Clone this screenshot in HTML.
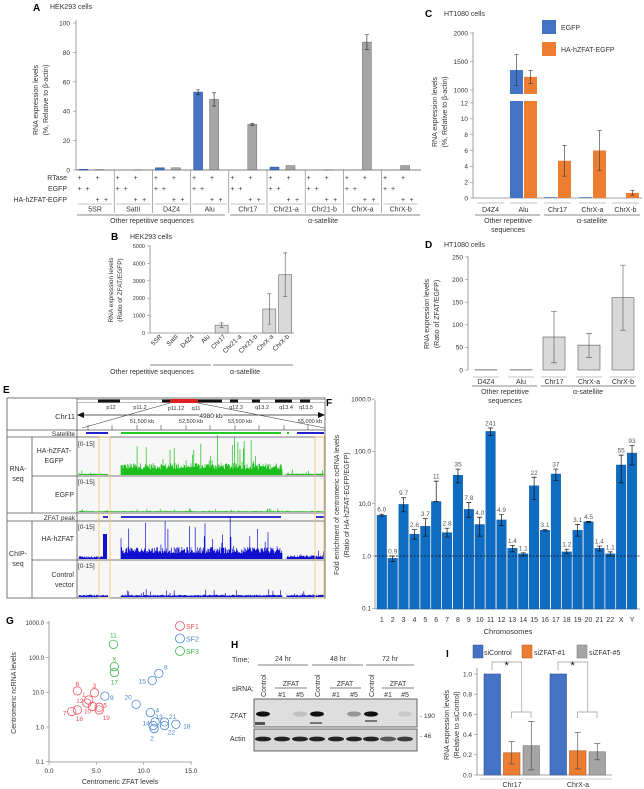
<!DOCTYPE html>
<html><head><meta charset="utf-8"><style>
html,body{margin:0;padding:0;background:#fff;}
svg{display:block;font-family:"Liberation Sans",sans-serif;}
text{fill:#333;}
</style></head><body>
<svg id="fig" width="644" height="789" viewBox="0 0 644 789" xmlns="http://www.w3.org/2000/svg">
<g id="pA">
<text x="33" y="11" font-size="10" font-weight="bold" style="fill:#000">A</text>
<text x="50" y="9" font-size="7">HEK293 cells</text>
<text transform="translate(38,100) rotate(-90)" font-size="7" text-anchor="middle">RNA expression levels</text>
<text transform="translate(48,100) rotate(-90)" font-size="7" text-anchor="middle">(%, Relative to β-actin)</text>
<text x="67" y="180" font-size="7" text-anchor="end">RTase</text>
<text x="67" y="191" font-size="7" text-anchor="end">EGFP</text>
<text x="67" y="202" font-size="7" text-anchor="end">HA-hZFAT-EGFP</text>
<line x1="77" y1="215" x2="225" y2="215" stroke="#888"/>
<line x1="230" y1="215" x2="420" y2="215" stroke="#888"/>
<text x="152" y="223" font-size="7" text-anchor="middle">Other repetitive sequences</text>
<text x="323" y="223" font-size="7" text-anchor="middle">α-satellite</text>
</g>
<g id="pB">
<text x="111" y="240" font-size="10" font-weight="bold" style="fill:#000">B</text>
<text x="130" y="239" font-size="7">HEK293 cells</text>
<text transform="translate(113,290) rotate(-90)" font-size="6.5" text-anchor="middle">RNA expression levels</text>
<text transform="translate(122,290) rotate(-90)" font-size="6.5" text-anchor="middle">(Ratio of ZFAT/EGFP)</text>
<line x1="150" y1="365" x2="211" y2="365" stroke="#888"/>
<line x1="213" y1="365" x2="293" y2="365" stroke="#888"/>
<text x="152" y="374" font-size="7" text-anchor="middle">Other repetitive sequences</text>
<text x="245" y="374" font-size="7" text-anchor="middle">α-satellite</text>
</g>
<g id="pC">
<text x="425" y="17" font-size="10" font-weight="bold" style="fill:#000">C</text>
<text x="444" y="16" font-size="7">HT1080 cells</text>
<text transform="translate(437,112) rotate(-90)" font-size="7" text-anchor="middle">RNA expression levels</text>
<text transform="translate(447,112) rotate(-90)" font-size="7" text-anchor="middle">(%, Relative to β-actin)</text>
<rect x="542" y="20" width="14" height="14" fill="#4472c4"/>
<text x="561" y="30" font-size="7">EGFP</text>
<rect x="542" y="42" width="14" height="14" fill="#ed7d31"/>
<text x="561" y="52" font-size="7">HA-hZFAT-EGFP</text>
<line x1="475" y1="215" x2="540" y2="215" stroke="#888"/>
<line x1="544" y1="215" x2="640" y2="215" stroke="#888"/>
<text x="508" y="223" font-size="7" text-anchor="middle">Other repetitive</text>
<text x="508" y="232" font-size="7" text-anchor="middle">sequences</text>
<text x="592" y="223" font-size="7" text-anchor="middle">α-satellite</text>
</g>
<g id="pD">
<text x="425" y="248" font-size="10" font-weight="bold" style="fill:#000">D</text>
<text x="444" y="247" font-size="7">HT1080 cells</text>
<text transform="translate(429,314) rotate(-90)" font-size="7" text-anchor="middle">RNA expression levels</text>
<text transform="translate(439,314) rotate(-90)" font-size="7" text-anchor="middle">(Ratio of ZFAT/EGFP)</text>
<line x1="472" y1="386" x2="537" y2="386" stroke="#888"/>
<line x1="541" y1="386" x2="636" y2="386" stroke="#888"/>
<text x="505" y="394" font-size="7" text-anchor="middle">Other repetitive</text>
<text x="505" y="403" font-size="7" text-anchor="middle">sequences</text>
<text x="588" y="394" font-size="7" text-anchor="middle">α-satellite</text>
</g>
<g id="pE">
<text x="3" y="393" font-size="10" font-weight="bold" style="fill:#000">E</text>
<rect x="77" y="437" width="248" height="161" fill="#f7f7f7"/>
<g stroke="#555" stroke-width="0.8" fill="none">
<rect x="7" y="398" width="318" height="200"/>
<line x1="7" y1="430" x2="325" y2="430"/><line x1="7" y1="437" x2="325" y2="437"/>
<line x1="32" y1="476" x2="325" y2="476"/><line x1="7" y1="513" x2="325" y2="513"/>
<line x1="7" y1="521" x2="325" y2="521"/><line x1="32" y1="560" x2="325" y2="560"/>
<line x1="77" y1="398" x2="77" y2="598"/><line x1="32" y1="437" x2="32" y2="513"/><line x1="32" y1="521" x2="32" y2="598"/>
</g>
<text x="75" y="419" font-size="7.5" text-anchor="end">Chr11</text>
<text x="75" y="436" font-size="6.5" text-anchor="end">Satellite</text>
<text x="54" y="453" font-size="7" text-anchor="middle">HA-hZFAT-</text>
<text x="54" y="463" font-size="7" text-anchor="middle">EGFP</text>
<text x="18" y="471" font-size="7" text-anchor="middle">RNA-</text>
<text x="18" y="481" font-size="7" text-anchor="middle">seq</text>
<text x="74" y="497" font-size="7" text-anchor="end">EGFP</text>
<text x="75" y="520" font-size="6.5" text-anchor="end">ZFAT peak</text>
<text x="74" y="541" font-size="7" text-anchor="end">HA-hZFAT</text>
<text x="18" y="556" font-size="7" text-anchor="middle">ChIP-</text>
<text x="18" y="566" font-size="7" text-anchor="middle">seq</text>
<text x="74" y="577" font-size="7" text-anchor="end">Control</text>
<text x="74" y="587" font-size="7" text-anchor="end">vector</text>
<g font-size="6.5">
<text x="78" y="446">[0-15]</text><text x="78" y="484">[0-15]</text><text x="78" y="529">[0-15]</text><text x="78" y="568">[0-15]</text>
</g>
<rect x="77" y="399.5" width="248" height="3" fill="#fff" stroke="#777" stroke-width="0.5"/>
<g fill="#111"><rect x="98" y="399.5" width="22" height="3"/><rect x="162" y="399.5" width="8" height="3"/><rect x="198" y="399.5" width="24" height="3"/><rect x="230" y="399.5" width="8" height="3"/><rect x="252" y="399.5" width="8" height="3"/><rect x="275" y="399.5" width="17" height="3"/><rect x="300" y="399.5" width="10" height="3"/></g>
<rect x="170" y="399" width="28" height="4" fill="#d22"/>
<g font-size="5.5" text-anchor="middle"><text x="111" y="409">p12</text><text x="140" y="409">p11.2</text><text x="176" y="410">p11.12</text><text x="196" y="410">q11</text><text x="236" y="409">q12.3</text><text x="262" y="409">q13.2</text><text x="286" y="409">q13.4</text><text x="306" y="409">q13.5</text></g>
<line x1="80" y1="415" x2="322" y2="415" stroke="#222" stroke-width="0.8"/>
<path d="M77 415 L84 412 L84 418Z M325 415 L318 412 L318 418Z" fill="#111"/>
<text x="211" y="418" font-size="6.5" text-anchor="middle" style="fill:#222;paint-order:stroke;stroke:#fff;stroke-width:2px">4980 kb</text>
<line x1="170" y1="403" x2="82" y2="428" stroke="#444" stroke-width="0.6"/><line x1="198" y1="403" x2="325" y2="428" stroke="#444" stroke-width="0.6"/>
<g font-size="5.5" text-anchor="middle"><text x="142" y="423">51,500 kb</text><text x="191" y="423">52,500 kb</text><text x="240" y="423">53,500 kb</text><text x="310" y="423">55,000 kb</text></g>
<g stroke="#444" stroke-width="0.6"><line x1="88" y1="425" x2="88" y2="430"/><line x1="112" y1="425" x2="112" y2="430"/><line x1="137" y1="425" x2="137" y2="430"/><line x1="161" y1="425" x2="161" y2="430"/><line x1="186" y1="425" x2="186" y2="430"/><line x1="210" y1="425" x2="210" y2="430"/><line x1="235" y1="425" x2="235" y2="430"/><line x1="259" y1="425" x2="259" y2="430"/><line x1="284" y1="425" x2="284" y2="430"/><line x1="308" y1="425" x2="308" y2="430"/></g>
<g id="tracks"></g>
<rect x="99" y="437" width="11" height="161" fill="none" stroke="#f5c26b" stroke-width="0.8"/>
<rect x="315" y="437" width="9" height="161" fill="none" stroke="#f5c26b" stroke-width="0.8"/>
</g>
<g id="pF">
<text x="326" y="406" font-size="10" font-weight="bold" style="fill:#000">F</text>
<text transform="translate(339,505) rotate(-90)" font-size="7" text-anchor="middle">Fold enrichment of centromeric ncRNA levels</text>
<text transform="translate(349,505) rotate(-90)" font-size="7" text-anchor="middle">(Ratio of HA-hZFAT-EGFP/EGFP)</text>
<text x="508" y="634" font-size="7.5" text-anchor="middle">Chromosomes</text>
</g>
<g id="pG">
<text x="6" y="624" font-size="10" font-weight="bold" style="fill:#000">G</text>
<text transform="translate(16,693) rotate(-90)" font-size="7" text-anchor="middle">Centromeric ncRNA levels</text>
<text x="120" y="784" font-size="7" text-anchor="middle">Centromeric ZFAT levels</text>
</g>
<g id="pH">
<text x="231" y="648" font-size="10" font-weight="bold" style="fill:#000">H</text>
<text x="232" y="662" font-size="7">Time;</text>
<text x="232" y="691" font-size="7">siRNA;</text>
<text x="230" y="718" font-size="7">ZFAT</text>
<text x="230" y="741" font-size="7">Actin</text>
<g stroke="#555" stroke-width="0.7"><line x1="258" y1="665" x2="308" y2="665"/><line x1="312" y1="665" x2="363" y2="665"/><line x1="366" y1="665" x2="414" y2="665"/>
<line x1="275" y1="688" x2="307" y2="688"/><line x1="330" y1="688" x2="361" y2="688"/><line x1="382" y1="688" x2="414" y2="688"/></g>
<g font-size="7" text-anchor="middle"><text x="283" y="661">24 hr</text><text x="338" y="661">48 hr</text><text x="390" y="661">72 hr</text>
<text x="291" y="686">ZFAT</text><text x="345" y="686">ZFAT</text><text x="398" y="686">ZFAT</text>
<text x="282" y="697">#1</text><text x="300" y="697">#5</text><text x="336" y="697">#1</text><text x="354" y="697">#5</text><text x="388" y="697">#1</text><text x="405" y="697">#5</text>
<text transform="translate(266,697) rotate(-90)" text-anchor="start">Control</text><text transform="translate(320,697) rotate(-90)" text-anchor="start">Control</text><text transform="translate(374,697) rotate(-90)" text-anchor="start">Control</text></g>
<rect x="254" y="699" width="163" height="28" fill="#dedede" stroke="#444" stroke-width="0.8"/>
<rect x="254" y="729" width="163" height="22" fill="#d6d6d6" stroke="#444" stroke-width="0.8"/>
<g id="bands"></g>
<text x="420" y="718" font-size="6.5">- 190</text>
<text x="420" y="738" font-size="6.5">- 46</text>
</g>
<g id="pI">
<text x="446" y="657" font-size="10" font-weight="bold" style="fill:#000">I</text>
<text transform="translate(449,725) rotate(-90)" font-size="7" text-anchor="middle">RNA expression levels</text>
<text transform="translate(459,725) rotate(-90)" font-size="7" text-anchor="middle">(Relative to siControl)</text>
<rect x="473" y="645" width="10" height="13" fill="#4472c4" stroke="#2f528f" stroke-width="0.5"/>
<text x="484" y="655" font-size="7">siControl</text>
<rect x="522" y="645" width="10" height="13" fill="#ed7d31" stroke="#ae5a21" stroke-width="0.5"/>
<text x="534" y="655" font-size="7">siZFAT-#1</text>
<rect x="577" y="645" width="10" height="13" fill="#a5a5a5" stroke="#777" stroke-width="0.5"/>
<text x="589" y="655" font-size="7">siZFAT-#5</text>
</g>
</svg>
<script>
// ---------- Panel A data ----------
const aCategories = ["5SR","SatII","D4Z4","Alu","Chr17","Chr21-a","Chr21-b","ChrX-a","ChrX-b"];
const aEgfp = [0.5,0,1.5,53,0,2,0,0,0];
const aEgfpErr = [0.1,0,0.2,1.5,0,0.2,0,0,0];
const aZfat = [0.3,0.2,1.5,48,31,3,0.2,87,3];
const aZfatErr = [0.1,0,0.3,4.5,0.7,0.3,0,5,0.2];
const aTicks = [0,20,40,60,80,100];
// ---------- Panel B data ----------
const bCategories = ["5SR","SatII","D4Z4","Alu","Chr17","Chr21-a","Chr21-b","ChrX-a","ChrX-b"];
const bValues = [0,0,0,0,450,0,0,1380,3350];
const bErr = [0,0,0,0,130,0,0,870,1250];
const bTicks = [0,1000,2000,3000,4000,5000];
// ---------- Panel C data ----------
const cCategories = ["D4Z4","Alu","Chr17","ChrX-a","ChrX-b"];
const cEgfp = [0,1350,0.1,0.1,0];
const cEgfpErr = [0,275,0,0,0];
const cZfat = [0,1230,4.7,6.0,0.65];
const cZfatErr = [0,115,1.95,2.5,0.3];
const cTicksLow = [0,2,4,6,8,10,12];
const cTicksHigh = [1000,1500,2000];
// ---------- Panel D data ----------
const dCategories = ["D4Z4","Alu","Chr17","ChrX-a","ChrX-b"];
const dValues = [0.5,0.5,73,55,160];
const dErrLow = [0,0,57,27,72];
const dErrHigh = [0,0,57,26,72];
const dTicks = [0,50,100,150,200,250];
// ---------- Panel F data ----------
const fCategories = ["1","2","3","4","5","6","7","8","9","10","11","12","13","14","15","16","17","18","19","20","21","22","X","Y"];
const fValues = [6.0,0.9,9.7,2.6,3.7,11,2.8,35,7.8,4.0,241,4.9,1.4,1.1,22,3.1,37,1.2,3.1,4.5,1.4,1.1,55,93];
const fErrHigh = [6.3,1.0,13,3.2,5.2,27,3.4,46,10.5,5.5,280,6.2,1.6,1.15,32,3.2,46,1.35,4.0,4.6,1.55,1.2,85,130];
const fErrLow = [5.8,0.78,7,2.1,2.4,11,2.3,25,5.5,2.4,200,3.8,1.2,1.0,12,3.0,28,1.1,2.4,4.4,1.25,1.0,25,55];
const fLabels = ["6.0","0.9","9.7","2.6","3.7","11","2.8","35","7.8","4.0","241","4.9","1.4","1.1","22","3.1","37","1.2","3.1","4.5","1.4","1.1","55","93"];
const fTicks = [0.1,1,10,100,1000];
const fTickLabels = ["0.1","1.0","10.0","100.0","1000.0"];
// ---------- Panel G data ----------
const gLabels = ["6","3","1","12","7","16","10","5","19","9","15","8","20","4","13","21","14","2","22","18","11","X","17"];
const gX = [3.0,4.8,4.2,4.0,2.4,3.0,4.6,5.3,5.3,5.9,10.9,11.6,9.2,10.7,11.2,12.2,11.0,11.1,12.2,13.4,6.8,6.9,6.9];
const gY = [11,9.7,6.0,4.9,2.8,3.1,3.9,3.7,3.1,7.8,22,35,4.5,2.6,1.4,1.4,1.1,0.9,1.1,1.2,241,55,37];
const gGroup = [0,0,0,0,0,0,0,0,0,1,1,1,1,1,1,1,1,1,1,1,2,2,2];
const gXTicks = [0,5,10,15];
const gYTicks = [0.1,1,10,100,1000];
const gYTickLabels = ["0.1","1.0","10.0","100.0","1000.0"];
// ---------- Panel H data (band intensities) ----------
const hZfat = [1,0,0.15,1,0,0.35,1,0,0.1];
const hActin = [1,1,1,1,1,1,1,0.7,0.85];
// ---------- Panel I data ----------
const iCategories = ["Chr17","ChrX-a"];
const iControl = [1.0,1.0];
const iZfat1 = [0.22,0.24];
const iZfat1Err = [0.11,0.18];
const iZfat5 = [0.29,0.23];
const iZfat5Err = [0.24,0.08];
const iTicks = [0,0.2,0.4,0.6,0.8,1.0];

const NS = "http://www.w3.org/2000/svg";
function mk(tag, attrs, parent){const e=document.createElementNS(NS,tag);for(const k in attrs)e.setAttribute(k,attrs[k]);parent.appendChild(e);return e;}
function txt(s, attrs, parent){const e=mk("text",attrs,parent);e.textContent=s;return e;}
let el;

// ===== Panel A =====
(function(){
const g=document.getElementById("pA");
const y=v=>170-v*1.47, x0=76, gw=38.2;
el=mk("line",{x1:76,y1:20,x2:76,y2:170,stroke:"#888","stroke-width":0.8},g);


el=mk("line",{x1:76,y1:170,x2:421,y2:170,stroke:"#555","stroke-width":0.8},g);


aTicks.forEach(t=>{
  mk("line",{x1:73,y1:y(t),x2:76,y2:y(t),stroke:"#888","stroke-width":0.6},g);
  el=txt(String(t),{x:70,y:y(t)+2.5,"font-size":6.5,"text-anchor":"end"},g);
  
  
});
aCategories.forEach((c,i)=>{
  const gs=x0+i*gw;
  const bh=[[aEgfp[i],aEgfpErr[i],"#4472c4","#2f528f",gs+3],[aZfat[i],aZfatErr[i],"#a5a5a5","#666",gs+19]];
  bh.forEach((b,j)=>{
    el=mk("rect",{x:b[4],y:y(b[0]),width:9,height:Math.max(0,170-y(b[0])),fill:b[2],stroke:b[3],"stroke-width":0.5},g);
    
    
    if(b[1]>0.5){const cx=b[4]+4.5;
      mk("path",{d:`M${cx} ${y(b[0]+b[1])}V${y(b[0]-b[1])}M${cx-2} ${y(b[0]+b[1])}H${cx+2}M${cx-2} ${y(b[0]-b[1])}H${cx+2}`,stroke:"#222","stroke-width":0.6,fill:"none"},g);}
  });
  if(i>0) mk("line",{x1:gs,y1:170,x2:gs,y2:213,stroke:"#777","stroke-width":0.6},g);
  const cols=[3.5,11.5,21.5,30];
  const plus=[[0,2],[0,1],[2,3]], rows=[180,191,202];
  plus.forEach((p,r)=>p.forEach(ci=>{txt("+",{x:gs+cols[ci],y:rows[r],"font-size":7,"text-anchor":"middle"},g);}));
  mk("line",{x1:gs+2,y1:204,x2:gs+gw-2,y2:204,stroke:"#888","stroke-width":0.6},g);
  el=txt(c,{x:gs+gw/2,y:211.5,"font-size":7,"text-anchor":"middle"},g);
  
  
});
})();

// ===== Panel B =====
(function(){
const g=document.getElementById("pB");
const y=v=>333-v*0.0174, x0=150, sw=15.9;
el=mk("line",{x1:150,y1:245,x2:150,y2:333,stroke:"#888","stroke-width":0.8},g);


el=mk("line",{x1:150,y1:333,x2:294,y2:333,stroke:"#888","stroke-width":0.8},g);


bTicks.forEach(t=>{
  mk("line",{x1:147,y1:y(t),x2:150,y2:y(t),stroke:"#888","stroke-width":0.6},g);
  el=txt(String(t),{x:145,y:y(t)+2,"font-size":5.5,"text-anchor":"end"},g);
  
  
});
bCategories.forEach((c,i)=>{
  const bx=x0+i*sw+1.5;
  el=mk("rect",{x:bx,y:y(bValues[i]),width:13,height:333-y(bValues[i]),fill:"#d9d9d9",stroke:"#666","stroke-width":0.6},g);
  
  
  if(bErr[i]>0){const cx=bx+6.5;
    mk("path",{d:`M${cx} ${y(bValues[i]+bErr[i])}V${y(bValues[i]-bErr[i])}M${cx-2} ${y(bValues[i]+bErr[i])}H${cx+2}M${cx-2} ${y(bValues[i]-bErr[i])}H${cx+2}`,stroke:"#555","stroke-width":0.6,fill:"none"},g);}
  el=txt(c,{transform:`translate(${bx+11},${337}) rotate(-45)`,"font-size":6.5,"text-anchor":"end"},g);
  
  
});
})();

// ===== Panel C =====
(function(){
const g=document.getElementById("pC");
const yl=v=>198-v*7.92, yh=v=>90-(v-1000)*0.057;
const y=v=>v<=12?yl(v):yh(v);
const gx=[477,510,544,579,612];
el=mk("line",{x1:473,y1:32,x2:473,y2:198,stroke:"#888","stroke-width":0.8},g);


el=mk("line",{x1:473,y1:198,x2:642,y2:198,stroke:"#888","stroke-width":0.8},g);


cTicksLow.forEach(t=>{mk("line",{x1:470,y1:yl(t),x2:473,y2:yl(t),stroke:"#888","stroke-width":0.6},g);
  el=txt(String(t),{x:468,y:yl(t)+2.3,"font-size":6.5,"text-anchor":"end"},g);
  
  });
cTicksHigh.forEach(t=>{mk("line",{x1:470,y1:yh(t),x2:473,y2:yh(t),stroke:"#888","stroke-width":0.6},g);
  el=txt(String(t),{x:468,y:yh(t)+2.3,"font-size":6.5,"text-anchor":"end"},g);
  
  });
cCategories.forEach((c,i)=>{
  [[cEgfp[i],cEgfpErr[i],"#4472c4",gx[i]],[cZfat[i],cZfatErr[i],"#ed7d31",gx[i]+14]].forEach((b,j)=>{
    el=mk("rect",{x:b[3],y:y(b[0]),width:13,height:198-y(b[0]),fill:b[2]},g);
    
    
    if(b[1]>0){const cx=b[3]+6.5;
      mk("path",{d:`M${cx} ${y(b[0]+b[1])}V${y(b[0]-b[1])}M${cx-2} ${y(b[0]+b[1])}H${cx+2}M${cx-2} ${y(b[0]-b[1])}H${cx+2}`,stroke:"#333","stroke-width":0.6,fill:"none"},g);}
  });
  mk("line",{x1:gx[i],y1:203,x2:gx[i]+27,y2:203,stroke:"#888","stroke-width":0.6},g);
  el=txt(c,{x:gx[i]+13.5,y:212,"font-size":7,"text-anchor":"middle"},g);
  
  
});
mk("rect",{x:465,y:94,width:177,height:7,fill:"#fff"},g);
mk("line",{x1:473,y1:94,x2:473,y2:101,stroke:"#888","stroke-width":0.8},g);
})();

// ===== Panel D =====
(function(){
const g=document.getElementById("pD");
const y=v=>370-v*0.452;
const gx=[475,510,543,578,612];
el=mk("line",{x1:468,y1:256,x2:468,y2:370,stroke:"#888","stroke-width":0.8},g);


dTicks.forEach(t=>{mk("line",{x1:465,y1:y(t),x2:468,y2:y(t),stroke:"#888","stroke-width":0.6},g);
  el=txt(String(t),{x:463,y:y(t)+2.3,"font-size":6.5,"text-anchor":"end"},g);
  
  });
dCategories.forEach((c,i)=>{
  el=mk("rect",{x:gx[i],y:y(dValues[i]),width:22,height:370-y(dValues[i]),fill:"#d9d9d9",stroke:"#555","stroke-width":0.6},g);
  
  
  if(dErrHigh[i]>0){const cx=gx[i]+11;
    mk("path",{d:`M${cx} ${y(dValues[i]+dErrHigh[i])}V${y(dValues[i]-dErrLow[i])}M${cx-3} ${y(dValues[i]+dErrHigh[i])}H${cx+3}M${cx-3} ${y(dValues[i]-dErrLow[i])}H${cx+3}`,stroke:"#555","stroke-width":0.6,fill:"none"},g);}
  mk("line",{x1:gx[i]-2,y1:377,x2:gx[i]+24,y2:377,stroke:"#888","stroke-width":0.6},g);
  el=txt(c,{x:gx[i]+11,y:384,"font-size":7,"text-anchor":"middle"},g);
  
  
});
})();

// ===== Panel E tracks (signal texture) =====
(function(){
const g=document.getElementById("tracks");
let s=12345; const rnd=()=>{s=(s*1103515245+12345)%2147483648;return s/2147483648;};
function track(base,x1,x2,h,color,spk,name){
  let d="";
  for(let x=x1;x<x2;x+=0.7){const v=h*(0.35+0.4*rnd())+(rnd()<spk?h*2*rnd():0);d+=`M${x.toFixed(1)} ${base}v${(-v).toFixed(1)}`;}
  el=mk("path",{d:d,stroke:color,"stroke-width":0.7,fill:"none"},g);
  
  
}
mk("rect",{x:86,y:432,width:22,height:2,fill:"#22c"},g);
mk("rect",{x:121,y:432,width:160,height:2,fill:"#2c2"},g);
mk("rect",{x:297,y:432,width:27,height:2,fill:"#22c"},g);
mk("rect",{x:287,y:432,width:2,height:2,fill:"#2c2"},g);
track(475,121,282,16,"#1bbf1b",0.12,'rna-zfat-signal');
track(475,79,108,2,"#1bbf1b",0.1,'rna-zfat-signal-left');
track(475,286,324,2,"#1bbf1b",0.1,'rna-zfat-signal-right');
track(512,79,324,1.5,"#2ec02e",0.06,'rna-egfp-signal');
mk("rect",{x:121,y:516,width:160,height:2,fill:"#33c"},g);
mk("rect",{x:103,y:516,width:5,height:2,fill:"#33c"},g);
mk("rect",{x:316,y:516,width:8,height:2,fill:"#33c"},g);
track(559,121,282,16,"#1010d0",0.12,'chip-zfat-signal');
track(559,79,106,4,"#1010d0",0.05,'chip-zfat-signal-left');
mk("path",{d:"M103 559V534H107V559Z",fill:"#1010d0"},g);
track(559,287,324,5,"#1010d0",0.08,'chip-zfat-signal-right');
track(597,79,108,3,"#1010d0",0.05,'control-signal-left');
track(597,121,282,3,"#1010d0",0.08,'control-signal');
track(597,287,324,3,"#1010d0",0.05,'control-signal-right');
})();

// ===== Panel F =====
(function(){
const g=document.getElementById("pF");
const y=v=>556-Math.log10(v)*52.3, x0=377, sw=10.88;
el=mk("line",{x1:375,y1:400,x2:375,y2:609,stroke:"#888","stroke-width":0.8},g);


el=mk("line",{x1:375,y1:609,x2:640,y2:609,stroke:"#888","stroke-width":0.8},g);


fTicks.forEach((t,k)=>{mk("line",{x1:372,y1:y(t),x2:375,y2:y(t),stroke:"#888","stroke-width":0.6},g);
  el=txt(fTickLabels[k],{x:371,y:y(t)+2.3,"font-size":6.5,"text-anchor":"end"},g);
  
  });
fCategories.forEach((c,i)=>{
  const bx=x0+i*sw;
  el=mk("rect",{x:bx,y:y(fValues[i]),width:9.6,height:609-y(fValues[i]),fill:"#0e6cc2",stroke:"#0b5aa5","stroke-width":0.4},g);
  
  
  const cx=bx+4.8;
  mk("path",{d:`M${cx} ${y(fErrHigh[i])}V${y(fErrLow[i])}M${cx-2.5} ${y(fErrHigh[i])}H${cx+2.5}M${cx-2.5} ${y(fErrLow[i])}H${cx+2.5}`,stroke:"#111","stroke-width":0.7,fill:"none"},g);
  el=txt(fLabels[i],{x:cx,y:y(fErrHigh[i])-2.5,"font-size":6.5,"text-anchor":"middle",style:"fill:#555"},g);
  
  
  el=txt(c,{x:cx,y:622,"font-size":7,"text-anchor":"middle"},g);
  
  
});
el=mk("line",{x1:375,y1:y(1),x2:640,y2:y(1),stroke:"#111","stroke-width":0.7,"stroke-dasharray":"2,1.5"},g);


})();

// ===== Panel G =====
(function(){
const g=document.getElementById("pG");
const x=v=>49+v*9.47, y=v=>727-Math.log10(v)*34.7;
const cols=["#f2545b","#4a86d4","#3cb44b"];
el=mk("line",{x1:49,y1:621,x2:49,y2:762,stroke:"#888","stroke-width":0.8},g);


el=mk("line",{x1:49,y1:762,x2:192,y2:762,stroke:"#888","stroke-width":0.8},g);


gYTicks.forEach((t,k)=>{mk("line",{x1:46,y1:y(t),x2:49,y2:y(t),stroke:"#888","stroke-width":0.6},g);
  el=txt(gYTickLabels[k],{x:44,y:y(t)+2.3,"font-size":6,"text-anchor":"end"},g);
  
  });
gXTicks.forEach(t=>{mk("line",{x1:x(t),y1:762,x2:x(t),y2:765,stroke:"#888","stroke-width":0.6},g);
  el=txt(t.toFixed(1),{x:x(t),y:773,"font-size":6.5,"text-anchor":"middle"},g);
  
  });
const off={"6":[0,-7],"3":[0,-7],"1":[-5,-5],"12":[-7,-2],"7":[-7,2],"16":[2,9],"10":[-5,5],"5":[6,-2],"19":[7,8],"9":[7,2],"15":[-10,1],"8":[7,-6],"20":[-8,-7],"4":[7,-2],"13":[4,-5],"21":[8,-5],"14":[-7,-2],"2":[-2,10],"22":[7,7],"18":[11,2],"11":[0,-9],"X":[0,-7],"17":[0,10]};
gLabels.forEach((l,i)=>{
  el=mk("circle",{cx:x(gX[i]),cy:y(gY[i]),r:4.2,fill:"none",stroke:cols[gGroup[i]],"stroke-width":0.8},g);
  
  
  const o=off[l]||[6,-4];
  el=txt(l,{x:x(gX[i])+o[0],y:y(gY[i])+o[1]+2,"font-size":6.5,"text-anchor":"middle",style:"fill:"+cols[gGroup[i]]},g);
  
  
});
["SF1","SF2","SF3"].forEach((s,k)=>{
  el=mk("circle",{cx:180,cy:626+k*12.5,r:4.5,fill:"none",stroke:cols[k],"stroke-width":0.8},g);
  
  
  el=txt(s,{x:186,y:629+k*12.5,"font-size":7,style:"fill:"+cols[k]},g);
  
  
});
})();

// ===== Panel H bands =====
(function(){
const g=document.getElementById("bands");
const lanes=[263,282,300,317,336,354,371,388,405];
lanes.forEach((lx,i)=>{
  if(hZfat[i]>0){
    el=mk("ellipse",{cx:lx,cy:714,rx:7,ry:2.6,fill:"#111","fill-opacity":hZfat[i]},g);
    
    }
  el=mk("ellipse",{cx:lx,cy:739,rx:8,ry:2.4,fill:"#222","fill-opacity":hActin[i]},g);
  
  
});
mk("rect",{x:255,y:722,width:10,height:3,fill:"#555"},g);
mk("rect",{x:310,y:722,width:12,height:2,fill:"#777"},g);
mk("rect",{x:365,y:720,width:12,height:2,fill:"#777"},g);
})();

// ===== Panel I =====
(function(){
const g=document.getElementById("pI");
const y=v=>775-v*101;
const gx=[484,550];
el=mk("line",{x1:477,y1:668,x2:477,y2:775,stroke:"#888","stroke-width":0.8},g);


el=mk("line",{x1:477,y1:775,x2:612,y2:775,stroke:"#888","stroke-width":0.8},g);


iTicks.forEach(t=>{mk("line",{x1:474,y1:y(t),x2:477,y2:y(t),stroke:"#888","stroke-width":0.6},g);
  el=txt(t.toFixed(1),{x:472,y:y(t)+2.3,"font-size":6.5,"text-anchor":"end"},g);
  
  });
iCategories.forEach((c,i)=>{
  const bs=[[iControl[i],0,"#4472c4","#2f528f"],[iZfat1[i],iZfat1Err[i],"#ed7d31","#ae5a21"],[iZfat5[i],iZfat5Err[i],"#a5a5a5","#777"]];
  bs.forEach((b,j)=>{
    const bx=gx[i]+j*19.5;
    el=mk("rect",{x:bx,y:y(b[0]),width:16.5,height:775-y(b[0]),fill:b[2],stroke:b[3],"stroke-width":0.6},g);
    
    
    if(b[1]>0){const cx=bx+8.25;
      mk("path",{d:`M${cx} ${y(b[0]+b[1])}V${y(b[0]-b[1])}M${cx-3} ${y(b[0]+b[1])}H${cx+3}M${cx-3} ${y(b[0]-b[1])}H${cx+3}`,stroke:"#444","stroke-width":0.6,fill:"none"},g);}
  });
  const a=gx[i]+8,b1=gx[i]+27.5,b2=gx[i]+47;
  mk("path",{d:`M${a} 670V662H${(b1+b2)/2+0.5}V712 M${b1} 718V712H${b2}V718`,stroke:"#999","stroke-width":0.7,fill:"none"},g);
  el=txt("*",{x:(a+(b1+b2)/2)/2,y:669,"font-size":11,"text-anchor":"middle",style:"fill:#111"},g);
  
  
  mk("line",{x1:gx[i]-4,y1:779,x2:gx[i]+62,y2:779,stroke:"#999","stroke-width":0.6},g);
  el=txt(c,{x:gx[i]+28,y:787,"font-size":7,"text-anchor":"middle"},g);
  
  
});
})();
</script>
</body></html>
